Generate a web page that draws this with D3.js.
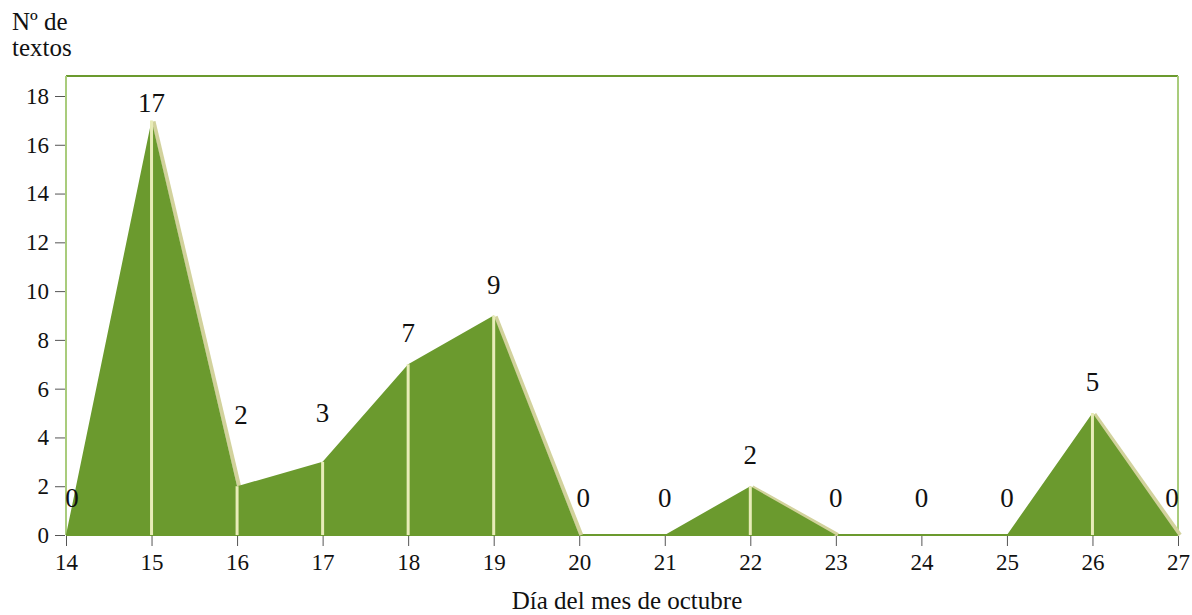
<!DOCTYPE html>
<html><head><meta charset="utf-8">
<script src="https://cdn.jsdelivr.net/npm/d3@7/dist/d3.min.js"></script>
<style>body{margin:0;background:#fff}svg{display:block}text{font-family:"Liberation Serif","DejaVu Serif",serif;fill:#111}</style>
</head><body><svg id="c" width="1192" height="615"></svg>
<script>
const days = [14,15,16,17,18,19,20,21,22,23,24,25,26,27];
const texts = [0,17,2,3,7,9,0,0,2,0,0,0,5,0];
const yTicks = [0,2,4,6,8,10,12,14,16,18];
const xTitle = "Día del mes de octubre";
const yTitle = ["Nº de","textos"];

const svg = d3.select("#c");
const L=66, R=1178, T=76, B=535;
const x = d3.scaleLinear().domain([14,27]).range([L,R]);
const y = d3.scaleLinear().domain([0,18]).range([B,96]);
const data = days.map((d,i)=>({d, v:texts[i]}));
const green="#6b9a2e";

// frame
svg.append("line").attr("x1",L).attr("x2",R).attr("y1",T).attr("y2",T).attr("stroke",green).attr("stroke-width",2);
svg.append("line").attr("x1",L).attr("x2",L).attr("y1",T).attr("y2",B).attr("stroke","#a9cc7c").attr("stroke-width",2);
svg.append("line").attr("x1",R).attr("x2",R).attr("y1",T).attr("y2",B).attr("stroke","#a9cc7c").attr("stroke-width",2);
svg.append("line").attr("x1",L).attr("x2",R).attr("y1",B).attr("y2",B).attr("stroke",green).attr("stroke-width",2);

// descending edge highlight
for(let i=0;i<data.length-1;i++){
  if(data[i+1].v<data[i].v){
    svg.append("line").attr("x1",x(data[i].d)+2).attr("y1",y(data[i].v)+1)
      .attr("x2",x(data[i+1].d)+2).attr("y2",y(data[i+1].v))
      .attr("stroke","#d2d29c").attr("stroke-width",4);
  }
}
// area
svg.append("path").datum(data)
  .attr("d",d3.area().x(d=>x(d.d)).y0(B).y1(d=>y(d.v)))
  .attr("fill",green);
// vertical drop lines
svg.selectAll(".drop").data(data.filter(d=>d.v>0)).join("line")
  .attr("x1",d=>x(d.d)).attr("x2",d=>x(d.d)).attr("y1",d=>y(d.v)).attr("y2",B)
  .attr("stroke","#e8ecb8").attr("stroke-width",3);

// axes
const yAxis = d3.axisLeft(y).tickValues(yTicks).tickSize(10).tickPadding(6);
const gy = svg.append("g").attr("transform",`translate(${L-1},0)`).call(yAxis);
gy.select(".domain").remove();
gy.selectAll(".tick line").attr("stroke","#555");
gy.selectAll(".tick text").attr("font-size",23).attr("font-family","Liberation Serif").attr("fill","#111");

const xAxis = d3.axisBottom(x).tickValues(days).tickFormat(d3.format("d")).tickSize(10).tickPadding(8);
const gx = svg.append("g").attr("transform",`translate(0,${B+1})`).call(xAxis);
gx.select(".domain").remove();
gx.selectAll(".tick line").attr("stroke","#555");
gx.selectAll(".tick text").attr("font-size",23).attr("font-family","Liberation Serif").attr("fill","#111");

// value labels
const nudgeX = {14:6,16:4,27:-6,20:4};
const extraUp = {16:40,17:18};
svg.selectAll(".val").data(data).join("text")
  .attr("x",d=>x(d.d)+(nudgeX[d.d]||0))
  .attr("y",d=>(d.v===0? B-28 : Math.max(112, y(d.v)-22-(extraUp[d.d]||0))))
  .attr("text-anchor","middle").attr("font-size",27)
  .text(d=>d.v);

// titles
svg.append("text").attr("x",627).attr("y",609).attr("text-anchor","middle").attr("font-size",25).text(xTitle);
svg.selectAll(".yt").data(yTitle).join("text").attr("x",12).attr("y",(d,i)=>30+i*26).attr("font-size",25).text(d=>d);
</script></body></html>
